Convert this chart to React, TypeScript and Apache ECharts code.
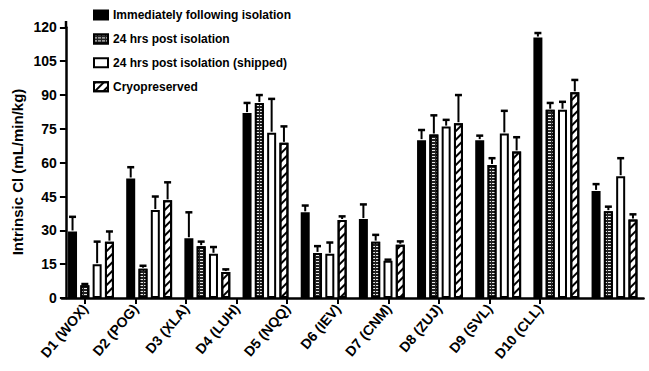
import React, { useEffect, useRef } from "react";
import * as echarts from "echarts";

const categories = ["D1 (WOX)", "D2 (POG)", "D3 (XLA)", "D4 (LUH)", "D5 (NQQ)", "D6 (IEV)", "D7 (CNM)", "D8 (ZUJ)", "D9 (SVL)", "D10 (CLL)"];
const seriesNames = ["Immediately following isolation", "24 hrs post isolation", "24 hrs post isolation (shipped)", "Cryopreserved"];

const immediate = [29.5, 53, 26.5, 82, 38, 35, 70, 70, 115.5, 47.5];
const immediateErr = [6.5, 5, 11.5, 4.5, 3, 6.5, 4.5, 2, 2, 3];
const post24 = [5.7, 13, 23, 86.5, 20, 25, 72.5, 59, 83.5, 38.5];
const post24Err = [0.5, 1.3, 2, 3.5, 3, 3, 8.5, 3, 3, 2];
const shipped = [15, 39, 19.6, 73.3, 19.6, 16.5, 76, 73, 83.5, 54];
const shippedErr = [10, 6, 3, 15, 5, 0.5, 3, 10, 3.5, 8];
const cryo = [25, 43.3, 11.5, 68.8, 34.6, 23.6, 77.5, 65, 91.2, 34.8];
const cryoErr = [4.5, 8, 1.2, 7.3, 1.6, 1.5, 12.5, 6.3, 5.5, 2.3];

const yTicks = { min: 0, max: 120, interval: 15 };

const FONT = "'Liberation Sans', Arial, sans-serif";
const BAR_W = 9;
const BAR_GAP = 3.3;

export default function App() {
  const ref = useRef<HTMLDivElement>(null);
  useEffect(() => {
    if (!ref.current) return;
    const chart = echarts.init(ref.current, null, { renderer: "svg" });
    const means = [immediate, post24, shipped, cryo];
    const errs = [immediateErr, post24Err, shippedErr, cryoErr];
    const styles: any[] = [
      { color: "#000", borderColor: "#000", borderWidth: 2 },
      {
        color: "#222",
        borderColor: "#000",
        borderWidth: 2,
        decal: { symbol: "rect", symbolSize: 1, color: "#e8e8e8", dashArrayX: [3, 1], dashArrayY: [1, 1.2], rotation: 0 },
      },
      { color: "#fff", borderColor: "#000", borderWidth: 2 },
      {
        color: "#fff",
        borderColor: "#000",
        borderWidth: 2,
        decal: { symbol: "rect", symbolSize: 1, color: "#000", dashArrayX: [1, 0], dashArrayY: [1.5, 3.5], rotation: -Math.PI / 4 },
      },
    ];
    const groupW = 4 * BAR_W + 3 * BAR_GAP;
    const barSeries = seriesNames.map((name, i) => ({
      name,
      type: "bar",
      xAxisIndex: 0,
      yAxisIndex: 0,
      barWidth: BAR_W,
      barGap: (BAR_GAP / BAR_W) * 100 + "%",
      data: means[i],
      itemStyle: styles[i],
      z: 2,
    }));
    const errSeries = seriesNames.map((name, i) => ({
      name: name + " err",
      type: "custom",
      xAxisIndex: 0,
      yAxisIndex: 0,
      z: 3,
      data: means[i].map((v, k) => [k, v, errs[i][k]]),
      encode: { x: 0, y: 1 },
      renderItem: (params: any, api: any) => {
        const idx = api.value(0);
        const v = api.value(1);
        const e = api.value(2);
        const base = api.coord([idx, v]);
        const top = api.coord([idx, v + e]);
        const x = base[0] - groupW / 2 + i * (BAR_W + BAR_GAP) + BAR_W / 2;
        const st = { stroke: "#000", lineWidth: 2 };
        return {
          type: "group",
          children: [
            { type: "line", shape: { x1: x, y1: base[1] - 1, x2: x, y2: top[1] }, style: st },
            { type: "line", shape: { x1: x - 3.5, y1: top[1], x2: x + 3.5, y2: top[1] }, style: { stroke: "#000", lineWidth: 2.5 } },
          ],
        };
      },
    }));

    chart.setOption({
      animation: false,
      backgroundColor: "#fff",
      grid: [
        { left: 61.9, right: 5.4, top: 27.4, bottom: 73 },
        { left: 59.7, width: 505.6, top: 27.4, bottom: 73 },
      ],
      legend: {
        data: seriesNames,
        orient: "vertical",
        left: 88,
        top: 4,
        icon: "rect",
        itemWidth: 14,
        itemHeight: 9,
        itemGap: 11.9,
        textStyle: { fontFamily: FONT, fontWeight: "bold", fontSize: 12, color: "#000", padding: [0, 0, 0, 0] },
      },
      xAxis: [
        {
          type: "category",
          gridIndex: 0,
          data: categories,
          axisLine: { lineStyle: { color: "#000", width: 2.5 } },
          axisTick: { show: false },
          axisLabel: { show: false },
        },
        {
          type: "category",
          gridIndex: 1,
          data: categories,
          axisLine: { show: false },
          axisTick: { show: true, alignWithLabel: true, length: 6, lineStyle: { color: "#000", width: 2 } },
          axisLabel: { interval: 0, rotate: 50, margin: 8, fontFamily: FONT, fontWeight: "bold", fontSize: 14, color: "#000" },
        },
      ],
      yAxis: [
        {
          type: "value",
          gridIndex: 0,
          min: yTicks.min,
          max: yTicks.max,
          interval: yTicks.interval,
          offset: -4,
          axisLine: { show: true, lineStyle: { color: "#000", width: 2.5 } },
          axisTick: { show: true, length: 6, lineStyle: { color: "#000", width: 2 } },
          splitLine: { show: false },
          axisLabel: { margin: 9, fontFamily: FONT, fontWeight: "bold", fontSize: 14, color: "#000" },
        },
        { type: "value", gridIndex: 1, show: false, min: 0, max: 120 },
      ],
      graphic: [
        {
          type: "text",
          x: 17,
          y: 172,
          rotation: Math.PI / 2,
          style: {
            text: "Intrinsic Cl (mL/min/kg)",
            font: "bold 15px 'Liberation Sans', Arial, sans-serif",
            fill: "#000",
            textAlign: "center",
            textVerticalAlign: "middle",
          },
        },
        {
          type: "line",
          shape: { x1: 66, y1: 21, x2: 66, y2: 28 },
          style: { stroke: "#000", lineWidth: 2.5 },
        },
      ],
      series: [...barSeries, ...errSeries],
    });
    return () => chart.dispose();
  }, []);
  return <div ref={ref} style={{ width: 649, height: 371, position: "absolute", left: 0, top: 0 }} />;
}
